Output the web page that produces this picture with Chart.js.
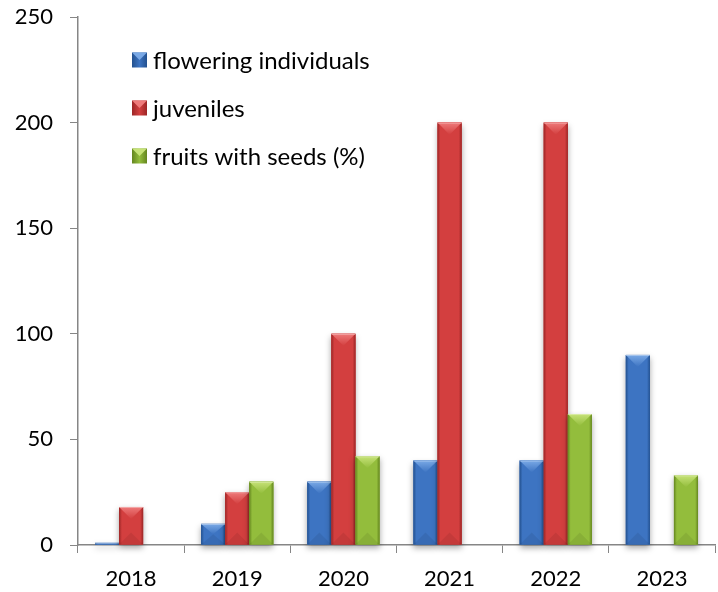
<!DOCTYPE html>
<html>
<head>
<meta charset="utf-8">
<script src="https://cdn.jsdelivr.net/npm/chart.js@4.4.1/dist/chart.umd.min.js"></script>
<style>
  html, body { margin: 0; padding: 0; background: #fff; }
  #wrap { width: 718px; height: 592px; }
</style>
</head>
<body>
<div id="wrap"><canvas id="popChart"></canvas></div>
<script>
// Data
const years = ['2018', '2019', '2020', '2021', '2022', '2023'];
const flowering = [1, 10, 30, 40, 40, 90];
const juveniles = [18, 25, 100, 200, 200, null];
const fruitsWithSeeds = [null, 30, 42, null, 62, 33];
const yTicks = [0, 50, 100, 150, 200, 250];

// base, light, dark for each series
const palette = [
    ['#3d74c2', '#7aa9e6', '#23518f'],
    ['#d33f3f', '#ee7a7a', '#9c2626'],
    ['#93bd3c', '#c6e277', '#64861f']
];

const fontFamily = 'Lato, "Open Sans", sans-serif';

// Draws bevelled "pyramid" bars on top of the plain ones
const bevelBars = {
    id: 'bevelBars',
    afterDatasetsDraw(chart) {
        const ctx = chart.ctx;
        chart.data.datasets.forEach((ds, di) => {
            const meta = chart.getDatasetMeta(di);
            const [base, light, dark] = palette[di];
            meta.data.forEach((bar, i) => {
                if (ds.data[i] == null) return;
                const w = bar.width;
                const l = bar.x - w / 2, r = bar.x + w / 2;
                const t = bar.y, b = bar.base;
                const h = b - t;
                if (h <= 0) return;
                const bev = Math.min(w / 2, h / 2);
                ctx.save();
                // shadow
                ctx.shadowColor = 'rgba(0,0,0,0.35)';
                ctx.shadowBlur = 6;
                ctx.shadowOffsetY = 3;
                ctx.fillStyle = base;
                ctx.fillRect(l, t, w, h);
                ctx.restore();
                ctx.save();
                // horizontal gradient body
                const g = ctx.createLinearGradient(l, 0, r, 0);
                g.addColorStop(0, dark);
                g.addColorStop(0.12, base);
                g.addColorStop(0.5, base);
                g.addColorStop(0.88, base);
                g.addColorStop(1, dark);
                ctx.fillStyle = g;
                ctx.fillRect(l, t, w, h);
                // top pyramid face
                const tg = ctx.createLinearGradient(0, t, 0, t + bev);
                tg.addColorStop(0, light);
                tg.addColorStop(1, base);
                ctx.fillStyle = tg;
                ctx.beginPath();
                ctx.moveTo(l, t);
                ctx.lineTo(r, t);
                ctx.lineTo(bar.x, t + bev);
                ctx.closePath();
                ctx.fill();
                // bottom face a bit darker
                ctx.fillStyle = 'rgba(0,0,0,0.07)';
                ctx.beginPath();
                ctx.moveTo(l, b);
                ctx.lineTo(r, b);
                ctx.lineTo(bar.x, b - bev);
                ctx.closePath();
                ctx.fill();
                // thin top highlight line
                ctx.fillStyle = 'rgba(255,255,255,0.35)';
                ctx.fillRect(l, t, w, 1);
                ctx.restore();
            });
        });
    }
};

// Legend drawn inside the plot, top-left
const insideLegend = {
    id: 'insideLegend',
    afterDraw(chart) {
        const ctx = chart.ctx;
        const x0 = 132, y0 = 60, gap = 48, box = 15;
        ctx.save();
        ctx.font = '24px ' + fontFamily;
        ctx.textBaseline = 'middle';
        chart.data.datasets.forEach((ds, di) => {
            const y = y0 + di * gap;
            const [base, light, dark] = palette[di];
            const g = ctx.createLinearGradient(x0, 0, x0 + box, 0);
            g.addColorStop(0, dark);
            g.addColorStop(0.5, base);
            g.addColorStop(1, dark);
            ctx.fillStyle = g;
            ctx.fillRect(x0, y - box / 2, box, box);
            ctx.fillStyle = light;
            ctx.beginPath();
            ctx.moveTo(x0, y - box / 2);
            ctx.lineTo(x0 + box, y - box / 2);
            ctx.lineTo(x0 + box / 2, y);
            ctx.closePath();
            ctx.fill();
            ctx.fillStyle = '#000';
            ctx.fillText(ds.label, x0 + box + 6, y + 1);
        });
        ctx.restore();
    }
};

document.addEventListener("DOMContentLoaded", function () {
    var ctx = document.getElementById('popChart').getContext('2d');
    var popChart = new Chart(ctx, {
        type: 'bar',
        data: {
            labels: years,
            datasets: [
                { label: 'flowering individuals', data: flowering, backgroundColor: palette[0][0] },
                { label: 'juveniles', data: juveniles, backgroundColor: palette[1][0] },
                { label: 'fruits with seeds (%)', data: fruitsWithSeeds, backgroundColor: palette[2][0] }
            ]
        },
        options: {
            responsive: true,
            maintainAspectRatio: false,
            animation: false,
            layout: { padding: { top: 17, right: 3, left: 0, bottom: 0 } },
            datasets: {
                bar: { categoryPercentage: 0.68, barPercentage: 1, skipNull: false }
            },
            plugins: {
                legend: { display: false },
                tooltip: { enabled: false }
            },
            scales: {
                x: {
                    afterFit(axis) { axis.height = 47; },
                    grid: { offset: true, drawOnChartArea: false, drawTicks: true, tickLength: 8, color: '#868686' },
                    border: { color: '#868686', width: 1.5 },
                    ticks: { color: '#000', padding: 13, font: { size: 22, family: fontFamily } }
                },
                y: {
                    min: 0,
                    max: 250,
                    afterBuildTicks(axis) { axis.ticks = yTicks.map(v => ({ value: v })); },
                    afterFit(axis) { axis.width = 78; axis.paddingTop = 0; axis.paddingBottom = 0; },
                    grid: { drawOnChartArea: false, drawTicks: true, tickLength: 8, color: '#868686' },
                    border: { color: '#868686', width: 1.5 },
                    ticks: { color: '#000', padding: 17, font: { size: 22, family: fontFamily } }
                }
            }
        },
        plugins: [bevelBars, insideLegend]
    });
});
</script>
</body>
</html>
